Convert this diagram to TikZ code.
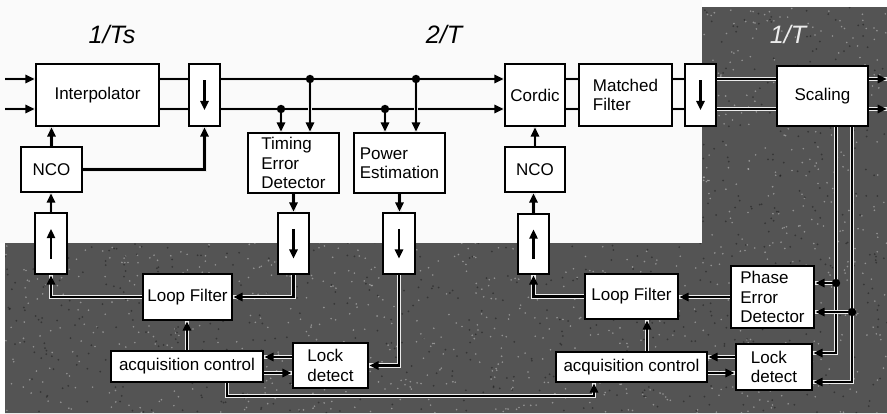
\documentclass[tikz,border=0pt]{standalone}
\usepackage{fontspec}
\setmainfont{Liberation Sans}
\usetikzlibrary{arrows.meta}
\definecolor{darkbg}{RGB}{84,84,84}
\definecolor{lightbg}{RGB}{250,250,250}
\newcommand\bx[6]{\node[box, minimum width={(#4-#2)*0.03cm}, minimum height={(#5-#3)*0.03cm}]
  (#1) at ({(#2+#4)/2},{(#3+#5)/2}) {#6};}
\begin{document}
\begin{tikzpicture}[x=0.03cm,y=-0.03cm,
  box/.style={draw=black, line width=2.2pt, fill=white, inner sep=0pt, align=left,
              font=\fontsize{14.5}{16.5}\selectfont},
  ln/.style={line width=1.9pt, preaction={draw=white!85!gray, line width=4pt, -}},
  ar/.style={ln, -{Triangle[length=8pt,width=7pt]}},
  inar/.style={line width=1.9pt, -{Triangle[length=8pt,width=7pt]}},
  dot/.style={circle, fill=black, inner sep=0pt, minimum size=7.2pt},
  rate/.style={font=\fontsize{21.5}{24}\selectfont\itshape}]
\useasboundingbox (0,0) rectangle (887,413);
\fill[white] (0,0) rectangle (887,413);
\fill[lightbg] (0,0) rectangle (702,243);
\fill[darkbg] (5,243) -- (702,243) -- (702,7) -- (887,7) -- (887,413) -- (5,413) -- cycle;
\begin{scope}
  \clip (5,243) -- (702,243) -- (702,7) -- (887,7) -- (887,413) -- (5,413) -- cycle;
  \pgfmathsetseed{7}
  \foreach \i in {1,...,1800}
    \fill[white!75!gray, opacity=0.45] (5+882*rnd,7+406*rnd) circle[radius=0.9];
  \foreach \i in {1,...,1200}
    \fill[black, opacity=0.35] (5+882*rnd,7+406*rnd) circle[radius=1.0];
\end{scope}

% rate labels
\node[rate] (r1) at (112,34) {1/Ts};
\node[rate] (r2) at (444,34) {2/T};
\node[rate, text=white!85!gray] (r3) at (788,34) {1/T};

% boxes
\bx{interp}{36}{64}{159}{126}{Interpolator}
\bx{dn1}{189}{64}{220}{126}{}
\bx{nco1}{21}{147}{82}{192}{NCO}
\bx{ted}{248}{133}{339}{193}{Timing\\Error\\Detector}
\bx{pe}{354}{133}{445}{193}{Power\\Estimation}
\bx{cordic}{505}{64}{565}{126}{Cordic}
\bx{mf}{579}{64}{672}{126}{Matched\\Filter}
\bx{dn2}{685}{64}{716}{126}{}
\bx{scal}{777}{66}{868}{126}{Scaling}
\bx{nco2}{505}{147}{565}{192}{NCO}
\bx{up1}{35}{213}{67}{274}{}
\bx{dnt}{278}{213}{309}{274}{}
\bx{dnp}{383}{213}{415}{274}{}
\bx{up2}{518}{214}{549}{274}{}
\bx{lf1}{143}{274}{232}{320}{Loop Filter}
\bx{lf2}{585}{274}{678}{319}{Loop Filter}
\bx{acq1}{111}{351}{263}{382}{acquisition control}
\bx{lock1}{293}{343}{368}{388}{Lock\\detect}
\bx{acq2}{556}{352}{707}{382}{acquisition control}
\bx{ped}{731}{266}{814}{328}{Phase\\Error\\Detector}
\bx{lock2}{736}{344}{812}{390}{Lock\\detect}

% arrows inside rate-change boxes
\foreach \b in {dn1,dn2,dnt,dnp}
  \draw[inar] ([yshift=12.5pt]\b.center) -- ([yshift=-13pt]\b.center);
\foreach \b in {up1,up2}
  \draw[inar] ([yshift=-13pt]\b.center) -- ([yshift=12.5pt]\b.center);

% helper coordinates
\coordinate (ya) at (0,79);
\coordinate (yb) at (0,109);
\coordinate (in1) at (5,79);
\coordinate (in2) at (5,109);
\coordinate (out1) at (887,79);
\coordinate (out2) at (887,109);
\coordinate (b1) at (227,396);
\coordinate (b2) at (594,396);
\coordinate (c2) at (647,0);
\coordinate (v1) at (836,353);
\coordinate (v2) at (852,382);
\coordinate (yl1) at (0,357);
\coordinate (yl2) at (0,373);
\coordinate (d1) at (310,79);
\coordinate (d2) at (281,109);
\coordinate (d3) at (416,79);
\coordinate (d4) at (385,109);
\coordinate (d5) at (836,283);
\coordinate (d6) at (852,312);

% main data path
\draw[ar] (in1) -- (in1 -| interp.west);
\draw[ar] (in2) -- (in2 -| interp.west);
\draw[ln] (interp.east |- ya) -- (dn1.west |- ya);
\draw[ln] (interp.east |- yb) -- (dn1.west |- yb);
\draw[ar] (dn1.east |- ya) -- (cordic.west |- ya);
\draw[ar] (dn1.east |- yb) -- (cordic.west |- yb);
\draw[ln] (cordic.east |- ya) -- (mf.west |- ya);
\draw[ln] (cordic.east |- yb) -- (mf.west |- yb);
\draw[ln] (mf.east |- ya) -- (dn2.west |- ya);
\draw[ln] (mf.east |- yb) -- (dn2.west |- yb);
\draw[ln] (dn2.east |- ya) -- (scal.west |- ya);
\draw[ln] (dn2.east |- yb) -- (scal.west |- yb);
\draw[ar] (scal.east |- ya) -- (out1);
\draw[ar] (scal.east |- yb) -- (out2);

% taps
\draw[ar] (d1) -- (d1 |- ted.north);
\draw[ar] (d2) -- (d2 |- ted.north);
\draw[ar] (d3) -- (d3 |- pe.north);
\draw[ar] (d4) -- (d4 |- pe.north);

% timing loop
\draw[ar] (nco1.north) -- (nco1.north |- interp.south);
\draw[ar] (nco1.east) -| (dn1.south);
\draw[ar] (up1.north) -- (up1.north |- nco1.south);
\draw[ar] (ted.south) -- (dnt.north);
\draw[ar] (pe.south) -- (pe.south |- dnp.north);
\draw[ar] (dnt.south) |- (lf1.east);
\draw[ar] (lf1.west) -| (up1.south);
\draw[ar] (acq1.north) -- (acq1.north |- lf1.south);
\draw[ar] (lock1.west |- yl1) -- (acq1.east |- yl1);
\draw[ar] (acq1.east |- yl2) -- (lock1.west |- yl2);
\draw[ar] (dnp.south) |- (lock1.east);
\draw[ar] (b1 |- acq1.south) -- (b1) -- (b2) -- (b2 |- acq2.south);

% carrier loop
\draw[ar] (nco2.north) -- (cordic.south);
\draw[ar] (up2.north) -- (up2.north |- nco2.south);
\draw[ar] (lf2.west) -| (up2.south);
\draw[ar] (ped.west) -- (ped.west -| lf2.east);
\draw[ar] (acq2.north -| c2) -- (lf2.south -| c2);
\draw[ar] (lock2.west |- yl1) -- (acq2.east |- yl1);
\draw[ar] (acq2.east |- yl2) -- (lock2.west |- yl2);

% outputs of scaling to phase detector and lock detector
\draw[ar] (v1 |- scal.south) -- (v1) -- (v1 -| lock2.east);
\draw[ar] (v2 |- scal.south) -- (v2) -- (v2 -| lock2.east);
\draw[ar] (d5) -- (d5 -| ped.east);
\draw[ar] (d6) -- (d6 -| ped.east);

% junction dots
\foreach \d in {d1,d2,d3,d4,d5,d6}
  \node[dot] at (\d) {};
\end{tikzpicture}
\end{document}
